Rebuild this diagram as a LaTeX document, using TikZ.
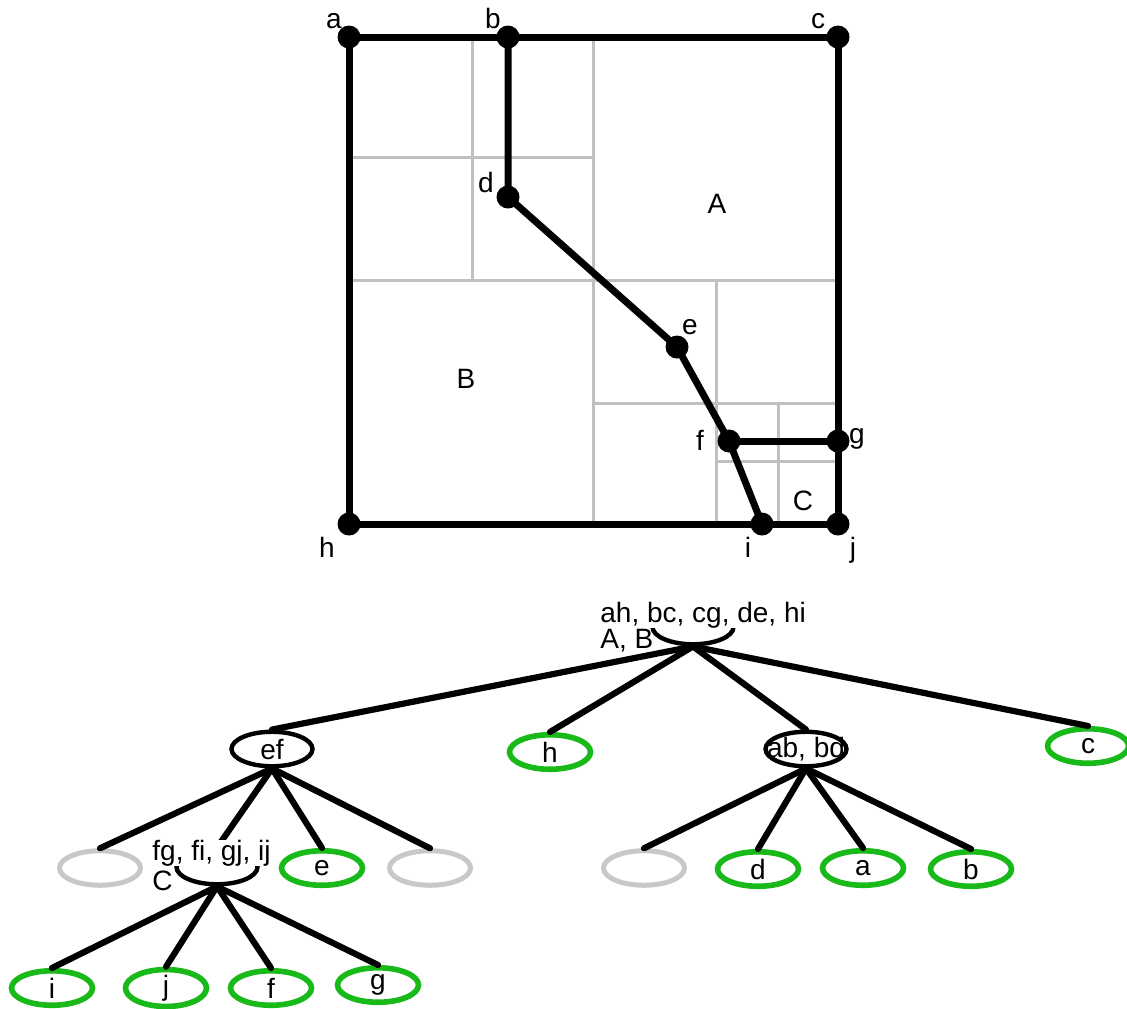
\documentclass[tikz,border=0pt]{standalone}
\usepackage{fontspec}
\setmainfont{Liberation Sans}
\usetikzlibrary{shapes.geometric}
\definecolor{gridgray}{RGB}{192,192,192}
\definecolor{leafgreen}{RGB}{25,185,25}
\definecolor{emptygray}{RGB}{200,200,200}
\begin{document}
\begin{tikzpicture}[x=0.5pt,y=-0.5pt,
  every node/.style={font=\fontsize{14pt}{13pt}\selectfont},
  blk/.style={line width=3.5pt,black,line join=round},
  gridln/.style={line width=1.5pt,gridgray},
  dot/.style={circle,fill=black,inner sep=0pt,minimum size=11.5pt},
  lbl/.style={anchor=base,inner sep=0pt},
  ell/.style={ellipse,inner sep=0pt,minimum width=40.5pt,minimum height=17.25pt},
  leaf/.style={ell,draw=leafgreen,line width=2.8pt},
  emptyleaf/.style={ell,draw=emptygray,line width=2.5pt},
  inner/.style={ell,draw=black,line width=2.2pt},
  edge/.style={line width=3.1pt,black,line cap=round}]
\useasboundingbox (0,0) rectangle (1127,1008);

% ---------- top: subdivision ----------
\draw[gridln] (472,37) -- (472,280);
\draw[gridln] (349,157) -- (593,157);
\draw[gridln] (593,37) -- (593,524);
\draw[gridln] (349,280) -- (838,280);
\draw[gridln] (716,280) -- (716,524);
\draw[gridln] (593,403) -- (838,403);
\draw[gridln] (778,403) -- (778,524);
\draw[gridln] (716,461) -- (838,461);

\node[dot] (a) at (349,37) {};
\node[dot] (b) at (508,37) {};
\node[dot] (c) at (838,37) {};
\node[dot] (d) at (508,197) {};
\node[dot] (e) at (677,347) {};
\node[dot] (f) at (729,441) {};
\node[dot] (g) at (838,441) {};
\node[dot] (h) at (349,524) {};
\node[dot] (i) at (762,524) {};
\node[dot] (j) at (838,524) {};

\draw[blk] (a.center) -- (b.center) -- (c.center) -- (g.center) -- (j.center) -- (i.center) -- (h.center) -- cycle;
\draw[blk] (b.center) -- (d.center) -- (e.center) -- (f.center) -- (i.center);
\draw[blk] (f.center) -- (g.center);

\node[lbl] (la) at (334,28) {a};
\node[lbl] (lb) at (493,28) {b};
\node[lbl] (lc) at (818,28) {c};
\node[lbl] (ld) at (486,192) {d};
\node[lbl] (le) at (690,334) {e};
\node[lbl] (lf) at (700,450) {f};
\node[lbl] (lg) at (857,443) {g};
\node[lbl] (lh) at (327,557) {h};
\node[lbl] (li) at (748,557) {i};
\node[lbl] (lj) at (853,557) {j};
\node[lbl] (lA) at (717,213) {A};
\node[lbl] (lB) at (466,388) {B};
\node[lbl] (lC) at (803,510) {C};

% ---------- bottom: tree ----------
\node[inner] (root) at (693,627) {};
\node[inner] (ef) at (272,749) {};
\node[leaf] (th) at (550,752) {h};
\node[inner] (abbd) at (806,749) {};
\node[leaf] (tc) at (1088,746) {c};

\node[emptyleaf] (x1) at (100,868) {};
\node[inner] (fg) at (217,867) {};
\node[leaf] (te) at (322,868) {e};
\node[emptyleaf] (x2) at (430,868) {};

\node[emptyleaf] (x3) at (644,868) {};
\node[leaf] (td) at (758,869) {d};
\node[leaf] (ta) at (863,868) {a};
\node[leaf] (tb) at (971,869) {b};

\node[leaf] (ti) at (52,988) {i};
\node[leaf] (tj) at (166,988) {j};
\node[leaf] (tf) at (271,988) {f};
\node[leaf] (tg) at (378,985) {g};

\foreach \ch in {ef,th,abbd,tc} \draw[edge] (root.south) -- (\ch.north);
\foreach \ch in {x1,fg,te,x2} \draw[edge] (ef.south) -- (\ch.north);
\foreach \ch in {x3,td,ta,tb} \draw[edge] (abbd.south) -- (\ch.north);
\foreach \ch in {ti,tj,tf,tg} \draw[edge] (fg.south) -- (\ch.north);

\node[inner sep=0pt] (efl) at (ef) {ef};
\node[inner sep=0pt] (abbdl) at (abbd) {ab, bd};
\node[anchor=base west,inner sep=0pt,fill=white] (rootl1) at (600,622) {ah, bc, cg, de, hi};
\node[anchor=base west,inner sep=0pt] (rootl2) at (600,648) {A, B};
\node[anchor=base west,inner sep=0pt,fill=white] (fgl1) at (152,860) {fg, fi, gj, ij};
\node[anchor=base west,inner sep=0pt] (fgl2) at (152,890) {C};
\end{tikzpicture}
\end{document}
